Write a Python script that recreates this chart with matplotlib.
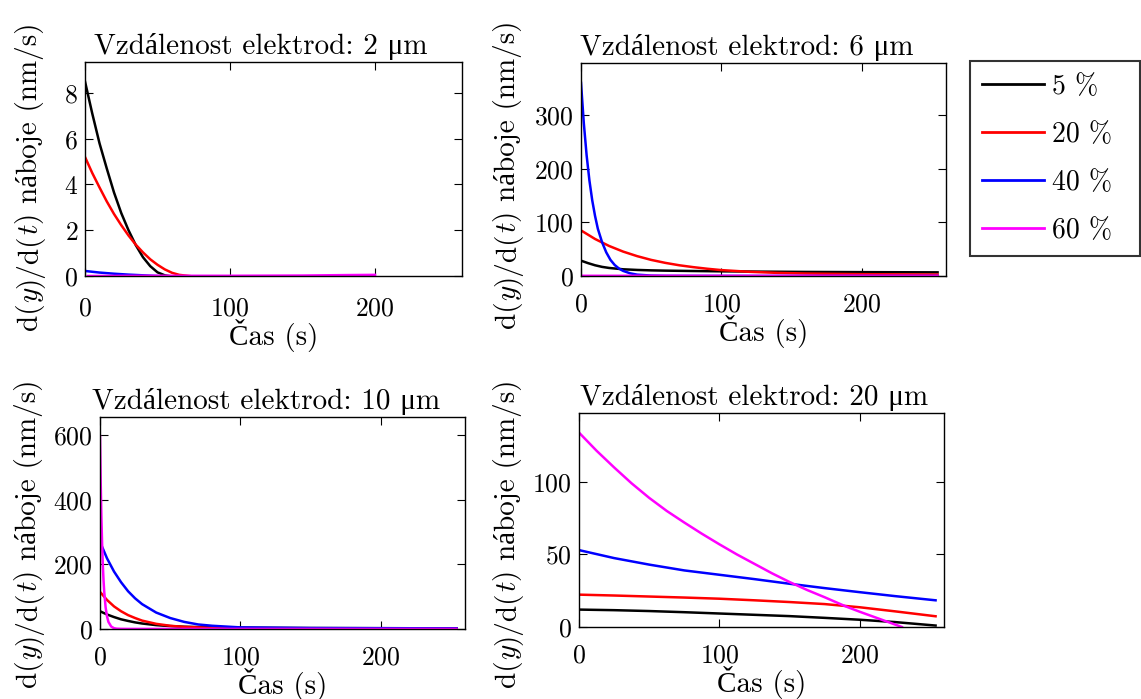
import matplotlib
matplotlib.use("Agg")
import matplotlib.pyplot as plt

# ---- data (time in s, rate in nm/s) ----
labels = ["5 %", "20 %", "40 %", "60 %"]
colors = ["#000000", "#ff0000", "#0000ff", "#ff00ff"]

# 2 um
t_2_black = [0, 5, 10, 15, 20, 25, 30, 35, 40, 45, 50, 55, 58]
v_2_black = [8.5, 7.1, 5.8, 4.7, 3.65, 2.75, 2.0, 1.35, 0.82, 0.43, 0.16, 0.03, 0.0]
t_2_red = [0, 5, 10, 15, 20, 25, 30, 35, 40, 45, 50, 55, 60, 65, 72]
v_2_red = [5.2, 4.5, 3.87, 3.26, 2.71, 2.22, 1.77, 1.37, 1.03, 0.73, 0.49, 0.29, 0.14, 0.05, 0.0]
t_2_blue = [0, 10, 20, 30, 40, 50]
v_2_blue = [0.22, 0.15, 0.10, 0.06, 0.03, 0.0]
t_2_mag = [2, 50, 100, 150, 180, 200]
v_2_mag = [0.0, 0.01, 0.01, 0.02, 0.04, 0.05]

# 6 um
t_6_black = [0, 5, 10, 15, 20, 30, 40, 50, 60, 80, 100, 130, 160, 200, 254]
v_6_black = [28.6, 24, 20, 17, 15, 12.5, 11.3, 10.5, 10, 9.3, 8.7, 8.1, 7.6, 7.2, 6.8]
t_6_red = [0, 10, 20, 30, 40, 50, 60, 70, 80, 90, 100, 120, 140, 160, 200, 254]
v_6_red = [85, 69, 56, 45.5, 37, 30, 24.5, 20, 16.5, 13.5, 11, 7.8, 5.8, 4.6, 3.4, 2.7]
t_6_blue = [0, 2, 4, 6, 8, 10, 12, 15, 18, 21, 24, 27, 30, 35, 40, 50, 60, 100, 254]
v_6_blue = [360, 285, 225, 178, 141, 112, 88, 63, 44, 30, 20.5, 14, 9.5, 5, 2.5, 0.8, 0.3, 0.1, 0.1]
t_6_mag = [0, 50, 100, 150, 200, 254]
v_6_mag = [0.4, 0.4, 0.3, 0.3, 0.3, 0.3]

# 10 um
t_10_black = [0, 5, 10, 15, 20, 25, 30, 40, 50, 60, 80, 100, 150, 200, 254]
v_10_black = [55, 45, 37, 30, 25, 20.5, 17, 12, 9, 7, 5, 4, 3, 2.5, 2]
t_10_red = [0, 5, 10, 15, 20, 25, 30, 40, 50, 60, 80, 100, 150, 200, 254]
v_10_red = [115, 90, 70, 55, 43, 34, 26, 16, 10, 6.5, 3.5, 2.5, 1.8, 1.5, 1.2]
t_10_blue = [0, 5, 10, 15, 20, 25, 30, 40, 50, 60, 70, 80, 100, 150, 200, 254]
v_10_blue = [270, 219, 178, 145, 117, 95, 77, 51, 34, 22, 14, 10, 5, 3, 2.5, 2]
t_10_mag = [0, 0.5, 1, 1.5, 2, 2.5, 3, 4, 5, 6, 8, 10, 12, 15, 20, 50, 100, 200, 254]
v_10_mag = [597, 454, 345, 263, 200, 152, 116, 67, 39, 22, 7.5, 2.5, 1, 0.5, 0.3, 0.3, 0.3, 0.3, 0.3]

# 20 um
t_20 = [0, 25, 50, 75, 100, 125, 150, 175, 200, 225, 254]
v_20_black = [12, 11.6, 11, 10.2, 9.3, 8.4, 7.5, 6.3, 5, 3.4, 1]
v_20_red = [22.3, 21.7, 21, 20.3, 19.5, 18.4, 17.2, 15.8, 13.6, 10.8, 7.4]
v_20_blue = [53, 47.5, 43, 39, 36, 33, 29.8, 26.8, 24, 21.3, 18.4]
t_20_mag = [0, 12.5, 25, 37.5, 50, 62.5, 75, 87.5, 100, 112.5, 125, 137.5, 150,
            162.5, 175, 190, 200, 210, 220, 230]
v_20_mag = [134, 121.5, 110, 99, 89, 80, 72, 64.3, 57, 50, 43.5, 37, 31,
            25.5, 20.5, 14.2, 10.5, 7, 3.5, 0]

panels = [
    ("Vzdálenost elektrod: 2 μm",
     [(t_2_black, v_2_black), (t_2_red, v_2_red), (t_2_blue, v_2_blue), (t_2_mag, v_2_mag)],
     9.35, [0, 2, 4, 6, 8]),
    ("Vzdálenost elektrod: 6 μm",
     [(t_6_black, v_6_black), (t_6_red, v_6_red), (t_6_blue, v_6_blue), (t_6_mag, v_6_mag)],
     397, [0, 100, 200, 300]),
    ("Vzdálenost elektrod: 10 μm",
     [(t_10_black, v_10_black), (t_10_red, v_10_red), (t_10_blue, v_10_blue), (t_10_mag, v_10_mag)],
     657, [0, 200, 400, 600]),
    ("Vzdálenost elektrod: 20 μm",
     [(t_20, v_20_black), (t_20, v_20_red), (t_20, v_20_blue), (t_20_mag, v_20_mag)],
     147.5, [0, 50, 100]),
]

# y label split in pieces so that y and t can be italic while "náboje" stays plain text
ylabel_parts = [("d(", "rm"), ("y", "it"), (")/d(", "rm"), ("t", "it"), (") náboje (nm/s)", "rm")]

FAM = ['cmr10', 'Liberation Serif']
plt.rcParams['font.family'] = FAM
plt.rcParams['mathtext.fontset'] = 'cm'
plt.rcParams['axes.formatter.use_mathtext'] = True
FS_TICK = 18.5
FS_LAB = 21

W, H = 1141, 699
fig = plt.figure(figsize=(W / 100, H / 100), dpi=100)

# pixel layout: axes left, top, right, bottom, title centre x, ylabel baseline x,
# ylabel centre y, x tick pad
boxes = [(85, 62, 462, 276, 261, 37, 176, 15),
         (581, 63, 946, 276, 747, 515, 174, 12),
         (100, 417, 465, 629, 266, 36, 533, 12),
         (579, 413, 944, 627, 754, 515, 533, 12)]


def stacked_ylabel(x_base, y_mid):
    texts = []
    prev = None
    for s, style in ylabel_parts:
        fam = 'cmmi10' if style == 'it' else FAM
        kw = dict(rotation=90, rotation_mode='anchor', ha='left', va='baseline',
                  fontsize=FS_LAB, family=fam)
        if prev is None:
            txt = fig.text(x_base / W, 1 - y_mid / H, s, **kw)
        else:
            txt = fig.add_artist(matplotlib.text.Annotation(
                s, xy=(x_base, 1), xycoords=('figure pixels', prev), **kw))
        texts.append(txt)
        prev = txt
    return texts


handles = []
label_groups = []
for (title, series, ytop, yticks), (l, t, r, b, tx, ylx, yly, xpad) in zip(panels, boxes):
    ax = fig.add_axes([l / W, 1 - b / H, (r - l) / W, (b - t) / H])
    hs = []
    for (x, y), c in zip(series, colors):
        h, = ax.plot(x, y, color=c, lw=1.8)
        hs.append(h)
    handles = hs
    ax.set_xlim(0, 260)
    ax.set_ylim(0, ytop)
    ax.set_xticks([0, 100, 200])
    ax.set_yticks(yticks)
    ax.tick_params(direction='in', top=True, right=True, length=6, width=0.8,
                   labelsize=FS_TICK)
    ax.tick_params(axis='x', pad=xpad)
    ax.tick_params(axis='y', pad=5)
    for s in ax.spines.values():
        s.set_linewidth(1.0)
    ax.set_title(title, fontsize=FS_LAB, pad=6, x=(tx - l) / (r - l))
    ax.set_xlabel('Čas (s)', fontsize=FS_LAB, labelpad=-1)
    label_groups.append((stacked_ylabel(ylx, yly), ylx, yly))

leg = fig.legend(handles, labels, loc='upper left',
                 bbox_to_anchor=(970 / W, 1 - 251 / H, 170 / W, 190 / H),
                 mode='expand', borderaxespad=0, fontsize=20, frameon=True,
                 fancybox=False, edgecolor='black', handlelength=2.2,
                 handletextpad=0.3, labelspacing=0.78, borderpad=0.45)
leg.get_frame().set_linewidth(1.5)
for lh in leg.get_lines():
    lh.set_linewidth(2)

# centre each stacked y label on its target height
fig.canvas.draw()
renderer = fig.canvas.get_renderer()
for texts, ylx, yly in label_groups:
    y0 = texts[0].get_window_extent(renderer).y0
    y1 = texts[-1].get_window_extent(renderer).y1
    length = y1 - y0
    start = (H - yly) - length / 2
    texts[0].set_position((ylx / W, start / H))

fig.savefig('out.png', dpi=100)
